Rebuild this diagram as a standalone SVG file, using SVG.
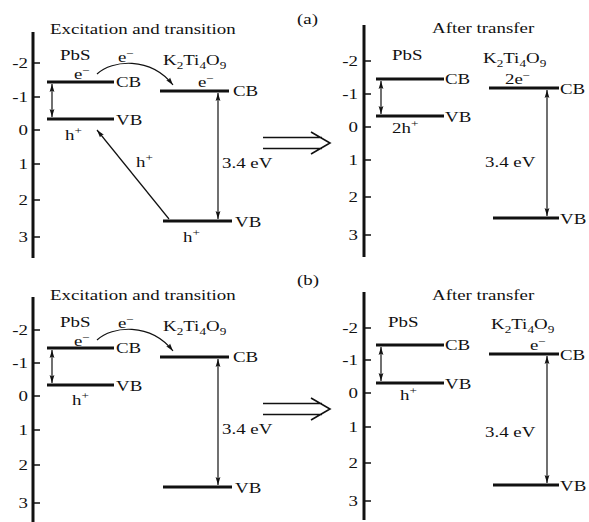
<svg xmlns="http://www.w3.org/2000/svg" width="589" height="522" viewBox="0 0 589 522">
<style>
.t{font-family:"Liberation Serif","Times New Roman",serif;font-size:15px;fill:#111}
.s{font-size:10.5px}
.lv{stroke:#111;stroke-width:3;fill:none}
.ax{stroke:#111;stroke-width:3;fill:none}
.tk{stroke:#111;stroke-width:1.5;fill:none}
.ar{stroke:#111;stroke-width:1.2;fill:none;marker-end:url(#ah)}
.dar{stroke:#111;stroke-width:1.2;fill:none;marker-end:url(#ah);marker-start:url(#ah)}
.hol{stroke:#111;stroke-width:1.6;fill:none}
</style>
<defs>
<marker id="ah" viewBox="0 0 8 6" refX="8" refY="3" markerWidth="8" markerHeight="6" markerUnits="userSpaceOnUse" orient="auto-start-reverse">
<path d="M0,0.6 L8,3 L0,5.4 L1.5,3 z" fill="#111"/>
</marker>
</defs>
<rect width="589" height="522" fill="#ffffff"/>

<!-- ===== Panel (a) ===== -->
<g id="a-left-axis">
<line class="ax" x1="33" y1="32" x2="33" y2="258"/>
<path class="tk" d="M33,63h7M33,97h7M33,130h7M33,164h7M33,200h7M33,237h7"/>
<g class="t" text-anchor="end">
<text transform="translate(28,68) scale(1.26,1)">-2</text>
<text transform="translate(28,102) scale(1.26,1)">-1</text>
<text transform="translate(28,135) scale(1.26,1)">0</text>
<text transform="translate(28,169) scale(1.26,1)">1</text>
<text transform="translate(28,205) scale(1.26,1)">2</text>
<text transform="translate(28,242) scale(1.26,1)">3</text>
</g>
<text class="t" transform="translate(50,34) scale(1.26,1)">Excitation and transition</text>
</g>

<g id="a-pbs">
<text class="t" transform="translate(60,60) scale(1.26,1)">PbS</text>
<line class="lv" x1="47" y1="82" x2="114" y2="82"/>
<line class="lv" x1="47" y1="119" x2="114" y2="119"/>
<text class="t" transform="translate(116,87) scale(1.26,1)">CB</text>
<text class="t" transform="translate(116,125) scale(1.26,1)">VB</text>
<text class="t" transform="translate(74,79) scale(1.26,1)">e<tspan class="s" dy="-5">−</tspan></text>
<text class="t" transform="translate(65,140) scale(1.26,1)">h<tspan class="s" dy="-6">+</tspan></text>
</g>

<g id="a-k2ti4o9">
<text class="t" transform="translate(163,65) scale(1.26,1)">K<tspan class="s" dy="4">2</tspan><tspan dy="-4">Ti</tspan><tspan class="s" dy="4">4</tspan><tspan dy="-4">O</tspan><tspan class="s" dy="4">9</tspan></text>
<line class="lv" x1="160" y1="91" x2="229" y2="91"/>
<line class="lv" x1="163" y1="221" x2="232" y2="221"/>
<text class="t" transform="translate(198,87) scale(1.26,1)">e<tspan class="s" dy="-5">−</tspan></text>
<text class="t" transform="translate(233,96) scale(1.26,1)">CB</text>
<text class="t" transform="translate(235,227) scale(1.26,1)">VB</text>
<text class="t" transform="translate(183,242) scale(1.26,1)">h<tspan class="s" dy="-6">+</tspan></text>
<text class="t" transform="translate(222,168) scale(1.26,1)">3.4 eV</text>
</g>

<g id="a-right-axis">
<line class="ax" x1="364" y1="25" x2="364" y2="257"/>
<path class="tk" d="M364,61h7M364,94h7M364,127h7M364,160h7M364,197h7M364,235h7"/>
<g class="t" text-anchor="end">
<text transform="translate(358,66) scale(1.26,1)">-2</text>
<text transform="translate(358,99) scale(1.26,1)">-1</text>
<text transform="translate(358,132) scale(1.26,1)">0</text>
<text transform="translate(358,165) scale(1.26,1)">1</text>
<text transform="translate(358,202) scale(1.26,1)">2</text>
<text transform="translate(358,240) scale(1.26,1)">3</text>
</g>
<text class="t" transform="translate(297,24) scale(1.26,1)">(a)</text>
<text class="t" transform="translate(432,33) scale(1.26,1)">After transfer</text>
</g>

<g id="a-pbs-after">
<text class="t" transform="translate(392,60) scale(1.26,1)">PbS</text>
<line class="lv" x1="376" y1="79" x2="444" y2="79"/>
<line class="lv" x1="376" y1="116" x2="444" y2="116"/>
<text class="t" transform="translate(445,84) scale(1.26,1)">CB</text>
<text class="t" transform="translate(445,122) scale(1.26,1)">VB</text>
<text class="t" transform="translate(392,133) scale(1.26,1)">2h<tspan class="s" dy="-6">+</tspan></text>
</g>

<g id="a-k2ti4o9-after">
<text class="t" transform="translate(483,63) scale(1.26,1)">K<tspan class="s" dy="4">2</tspan><tspan dy="-4">Ti</tspan><tspan class="s" dy="4">4</tspan><tspan dy="-4">O</tspan><tspan class="s" dy="4">9</tspan></text>
<text class="t" transform="translate(505,84) scale(1.26,1)">2e<tspan class="s" dy="-5">−</tspan></text>
<line class="lv" x1="489" y1="88" x2="559" y2="88"/>
<line class="lv" x1="493" y1="218" x2="559" y2="218"/>
<text class="t" transform="translate(560,94) scale(1.26,1)">CB</text>
<text class="t" transform="translate(560,224) scale(1.26,1)">VB</text>
<text class="t" transform="translate(485,167) scale(1.26,1)">3.4 eV</text>
</g>

<!-- ===== Panel (b) ===== -->
<g id="b-left-axis">
<line class="ax" x1="33" y1="297" x2="33" y2="522"/>
<path class="tk" d="M33,330h7M33,363h7M33,396h7M33,430h7M33,465h7M33,503h7"/>
<g class="t" text-anchor="end">
<text transform="translate(28,335) scale(1.26,1)">-2</text>
<text transform="translate(28,368) scale(1.26,1)">-1</text>
<text transform="translate(28,401) scale(1.26,1)">0</text>
<text transform="translate(28,435) scale(1.26,1)">1</text>
<text transform="translate(28,470) scale(1.26,1)">2</text>
<text transform="translate(28,508) scale(1.26,1)">3</text>
</g>
<text class="t" transform="translate(50,300) scale(1.26,1)">Excitation and transition</text>
</g>

<g id="b-pbs">
<text class="t" transform="translate(60,327) scale(1.26,1)">PbS</text>
<line class="lv" x1="47" y1="348" x2="114" y2="348"/>
<line class="lv" x1="47" y1="385" x2="114" y2="385"/>
<text class="t" transform="translate(116,353) scale(1.26,1)">CB</text>
<text class="t" transform="translate(116,391) scale(1.26,1)">VB</text>
<text class="t" transform="translate(74,345.5) scale(1.26,1)">e<tspan class="s" dy="-5">−</tspan></text>
<text class="t" transform="translate(72,405) scale(1.26,1)">h<tspan class="s" dy="-6">+</tspan></text>
</g>

<g id="b-k2ti4o9">
<text class="t" transform="translate(163,331) scale(1.26,1)">K<tspan class="s" dy="4">2</tspan><tspan dy="-4">Ti</tspan><tspan class="s" dy="4">4</tspan><tspan dy="-4">O</tspan><tspan class="s" dy="4">9</tspan></text>
<line class="lv" x1="160" y1="357" x2="229" y2="357"/>
<line class="lv" x1="163" y1="487" x2="232" y2="487"/>
<text class="t" transform="translate(233,362) scale(1.26,1)">CB</text>
<text class="t" transform="translate(235,493) scale(1.26,1)">VB</text>
<text class="t" transform="translate(222,434) scale(1.26,1)">3.4 eV</text>
</g>

<g id="b-right-axis">
<line class="ax" x1="364" y1="292" x2="364" y2="520"/>
<path class="tk" d="M364,328h7M364,360h7M364,393h7M364,427h7M364,463h7M364,501h7"/>
<g class="t" text-anchor="end">
<text transform="translate(358,333) scale(1.26,1)">-2</text>
<text transform="translate(358,365) scale(1.26,1)">-1</text>
<text transform="translate(358,398) scale(1.26,1)">0</text>
<text transform="translate(358,432) scale(1.26,1)">1</text>
<text transform="translate(358,468) scale(1.26,1)">2</text>
<text transform="translate(358,506) scale(1.26,1)">3</text>
</g>
<text class="t" transform="translate(297,285) scale(1.26,1)">(b)</text>
<text class="t" transform="translate(432,300) scale(1.26,1)">After transfer</text>
</g>

<g id="b-pbs-after">
<text class="t" transform="translate(388,327) scale(1.26,1)">PbS</text>
<line class="lv" x1="376" y1="345" x2="444" y2="345"/>
<line class="lv" x1="376" y1="383" x2="444" y2="383"/>
<text class="t" transform="translate(445,350) scale(1.26,1)">CB</text>
<text class="t" transform="translate(445,389) scale(1.26,1)">VB</text>
<text class="t" transform="translate(400,400) scale(1.26,1)">h<tspan class="s" dy="-6">+</tspan></text>
</g>

<g id="b-k2ti4o9-after">
<text class="t" transform="translate(491,329) scale(1.26,1)">K<tspan class="s" dy="4">2</tspan><tspan dy="-4">Ti</tspan><tspan class="s" dy="4">4</tspan><tspan dy="-4">O</tspan><tspan class="s" dy="4">9</tspan></text>
<text class="t" transform="translate(530,350) scale(1.26,1)">e<tspan class="s" dy="-5">−</tspan></text>
<line class="lv" x1="489" y1="354" x2="559" y2="354"/>
<line class="lv" x1="493" y1="485" x2="559" y2="485"/>
<text class="t" transform="translate(560,360) scale(1.26,1)">CB</text>
<text class="t" transform="translate(560,491) scale(1.26,1)">VB</text>
<text class="t" transform="translate(485,437) scale(1.26,1)">3.4 eV</text>
</g>

<!-- ===== Connectors ===== -->
<g id="connectors">
<!-- panel (a) -->
<line class="dar" x1="52" y1="84" x2="52" y2="117"/>
<path class="ar" d="M97,74 C112,60 150,56 173,85"/>
<text class="t" transform="translate(118,62) scale(1.26,1)">e<tspan class="s" dy="-5">−</tspan></text>
<line class="dar" x1="218" y1="93" x2="218" y2="219"/>
<line class="ar" x1="169" y1="219" x2="97" y2="130"/>
<text class="t" transform="translate(136,167) scale(1.26,1)">h<tspan class="s" dy="-6">+</tspan></text>
<path class="hol" d="M263,137.5H322M263,148.5H322M311,132L330,143L311,154"/>
<line class="dar" x1="381" y1="81" x2="381" y2="114"/>
<line class="dar" x1="547" y1="90" x2="547" y2="216"/>
<!-- panel (b) -->
<line class="dar" x1="52" y1="350" x2="52" y2="383"/>
<path class="ar" d="M97,340 C112,326 150,322 173,351"/>
<text class="t" transform="translate(118,328) scale(1.26,1)">e<tspan class="s" dy="-5">−</tspan></text>
<line class="dar" x1="218" y1="359" x2="218" y2="485"/>
<path class="hol" d="M263,403.5H322M263,414.5H322M311,398L330,409L311,420"/>
<line class="dar" x1="381" y1="347" x2="381" y2="381"/>
<line class="dar" x1="547" y1="356" x2="547" y2="483"/>
</g>
</svg>
